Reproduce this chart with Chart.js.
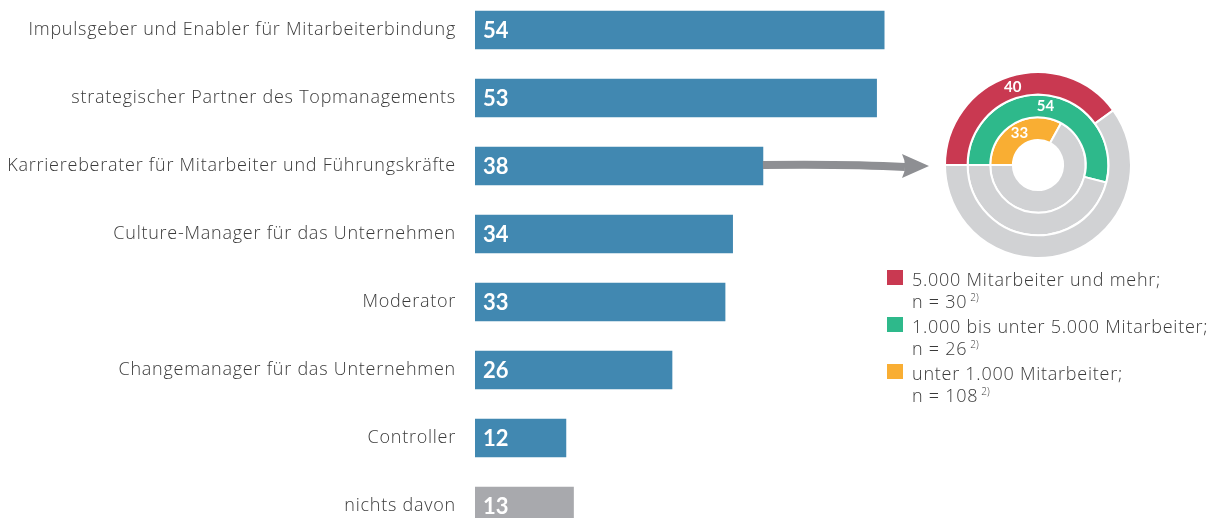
<!DOCTYPE html>
<html lang="de">
<head>
<meta charset="utf-8">
<script src="https://cdn.jsdelivr.net/npm/chart.js@4"></script>
<style>
  html, body { margin: 0; padding: 0; background: #fff; overflow: hidden; }
  body { width: 1210px; height: 518px; position: relative; font-family: "Open Sans", sans-serif; }
  #bars { position: absolute; left: 0; top: -4px; }
  #rings { position: absolute; left: 944px; top: 71px; }
  #legend { position: absolute; left: 886px; top: 268px; color: #3a3a3a; font-size: 18px; letter-spacing: 0.75px; line-height: 22px; font-weight: 300; }
  #legend .item { position: relative; padding-left: 26px; }
  #legend .box { position: absolute; left: 1px; top: 2px; width: 16px; height: 15px; }
  #legend sup { font-size: 10px; letter-spacing: 0; vertical-align: 0; position: relative; top: -7px; margin-left: 3px; }
</style>
</head>
<body>
<canvas id="bars" width="1210" height="544"></canvas>
<canvas id="rings" width="188" height="188"></canvas>
<div id="legend"></div>
<script>
// Daten
const categories = [
  "Impulsgeber und Enabler für Mitarbeiterbindung",
  "strategischer Partner des Topmanagements",
  "Karriereberater für Mitarbeiter und Führungskräfte",
  "Culture-Manager für das Unternehmen",
  "Moderator",
  "Changemanager für das Unternehmen",
  "Controller",
  "nichts davon"
];
const shares = [54, 53, 38, 34, 33, 26, 12, 13];

const ringLabels = [
  "5.000 Mitarbeiter und mehr;",
  "1.000 bis unter 5.000 Mitarbeiter;",
  "unter 1.000 Mitarbeiter;"
];
const ringValues = [40, 54, 33];
const ringN = [30, 26, 108];

// Farben
const BLUE = "#4188b1";
const GRAY_BAR = "#a8a9ad";
const RING_COLORS = ["#c93951", "#2eb98b", "#f9ae33"];
const RING_REST = "#d1d2d4";
const ARROW = "#8e8f93";
const ARROW_TIP = 929;   // Spitze des Pfeils (links vom Ring)
const HIGHLIGHT = 2;     // Karriereberater -> Ring

// etwas Sperrung für die Achsenbeschriftung
// (canvas-Größe setzt den Kontext zurück, daher erst vor dem Zeichnen)
const spacing = {
  id: "spacing",
  beforeLayout(chart) { chart.ctx.letterSpacing = "0.75px"; },
  beforeDraw(chart) { chart.ctx.letterSpacing = "0.75px"; }
};

// Werte in den Balken + Pfeil
const barExtras = {
  id: "barExtras",
  afterDatasetsDraw(chart) {
    const ctx = chart.ctx;
    const xs = chart.scales.x;
    const meta = chart.getDatasetMeta(0);
    ctx.save();
    ctx.letterSpacing = "0px";
    ctx.fillStyle = "#fff";
    ctx.font = "bold 22px Lato";
    ctx.textBaseline = "middle";
    meta.data.forEach((bar, i) => {
      ctx.fillText(String(shares[i]), xs.getPixelForValue(0) + 8, bar.y + 1);
    });

    // Pfeil vom Balken zum Ring
    const b = meta.data[HIGHLIGHT];
    const x0 = xs.getPixelForValue(shares[HIGHLIGHT]);
    const y0 = b.y;
    ctx.strokeStyle = ARROW;
    ctx.fillStyle = ARROW;
    ctx.lineWidth = 8;
    ctx.beginPath();
    ctx.moveTo(x0, y0 - 1);
    ctx.quadraticCurveTo(850, y0 - 2, ARROW_TIP - 24, y0 + 1);
    ctx.stroke();
    ctx.beginPath();
    ctx.moveTo(ARROW_TIP - 27, y0 - 12);
    ctx.lineTo(ARROW_TIP, y0);
    ctx.lineTo(ARROW_TIP - 27, y0 + 12);
    ctx.quadraticCurveTo(ARROW_TIP - 21, y0, ARROW_TIP - 27, y0 - 12);
    ctx.fill();
    ctx.restore();
  }
};

const barChart = new Chart(document.getElementById("bars"), {
  type: "bar",
  data: {
    labels: categories,
    datasets: [{
      data: shares,
      backgroundColor: shares.map((v, i) => i === shares.length - 1 ? GRAY_BAR : BLUE),
      barThickness: 38,
      borderWidth: 0
    }]
  },
  options: {
    indexAxis: "y",
    responsive: false,
    animation: false,
    layout: { padding: 0 },
    plugins: { legend: { display: false }, tooltip: { enabled: false } },
    scales: {
      x: { display: false, min: 0, max: 97 },
      y: {
        grid: { display: false, drawTicks: false },
        border: { display: false },
        ticks: { color: "#3a3a3a", font: { family: "Open Sans", size: 18, weight: 300 }, padding: 19 },
        afterFit(scale) {
          scale.width = 475;
          // Tick-Padding soll die Höhe nicht verkleinern
          scale.paddingTop = 0;
          scale.paddingBottom = 0;
        }
      }
    }
  },
  plugins: [spacing, barExtras]
});

// Werte auf den Ringen
const ringText = {
  id: "ringText",
  afterDatasetsDraw(chart) {
    const ctx = chart.ctx;
    ctx.save();
    ctx.fillStyle = "#fff";
    ctx.font = "bold 15px Lato";
    ctx.textAlign = "center";
    ctx.textBaseline = "middle";
    chart.data.datasets.forEach((ds, i) => {
      const arc = chart.getDatasetMeta(i).data[0];
      const p = arc.tooltipPosition();
      ctx.fillText(String(ringValues[i]), p.x, p.y);
    });
    ctx.restore();
  }
};

const ringChart = new Chart(document.getElementById("rings"), {
  type: "doughnut",
  data: {
    labels: ["Anteil", "Rest"],
    datasets: ringValues.map((v, i) => ({
      data: [v, 100 - v],
      backgroundColor: [RING_COLORS[i], RING_REST],
      borderColor: "#fff",
      borderWidth: 2
    }))
  },
  options: {
    responsive: false,
    animation: false,
    rotation: -90,
    cutout: "27%",
    layout: { padding: 0 },
    plugins: { legend: { display: false }, tooltip: { enabled: false } }
  },
  plugins: [ringText]
});

// Legende
document.getElementById("legend").innerHTML = ringLabels.map((l, i) => `
  <div class="item">
    <span class="box" style="background:${RING_COLORS[i]}"></span>
    ${l}<br>n = ${ringN[i]}<sup>2)</sup>
  </div>`).join("");
</script>
</body>
</html>
